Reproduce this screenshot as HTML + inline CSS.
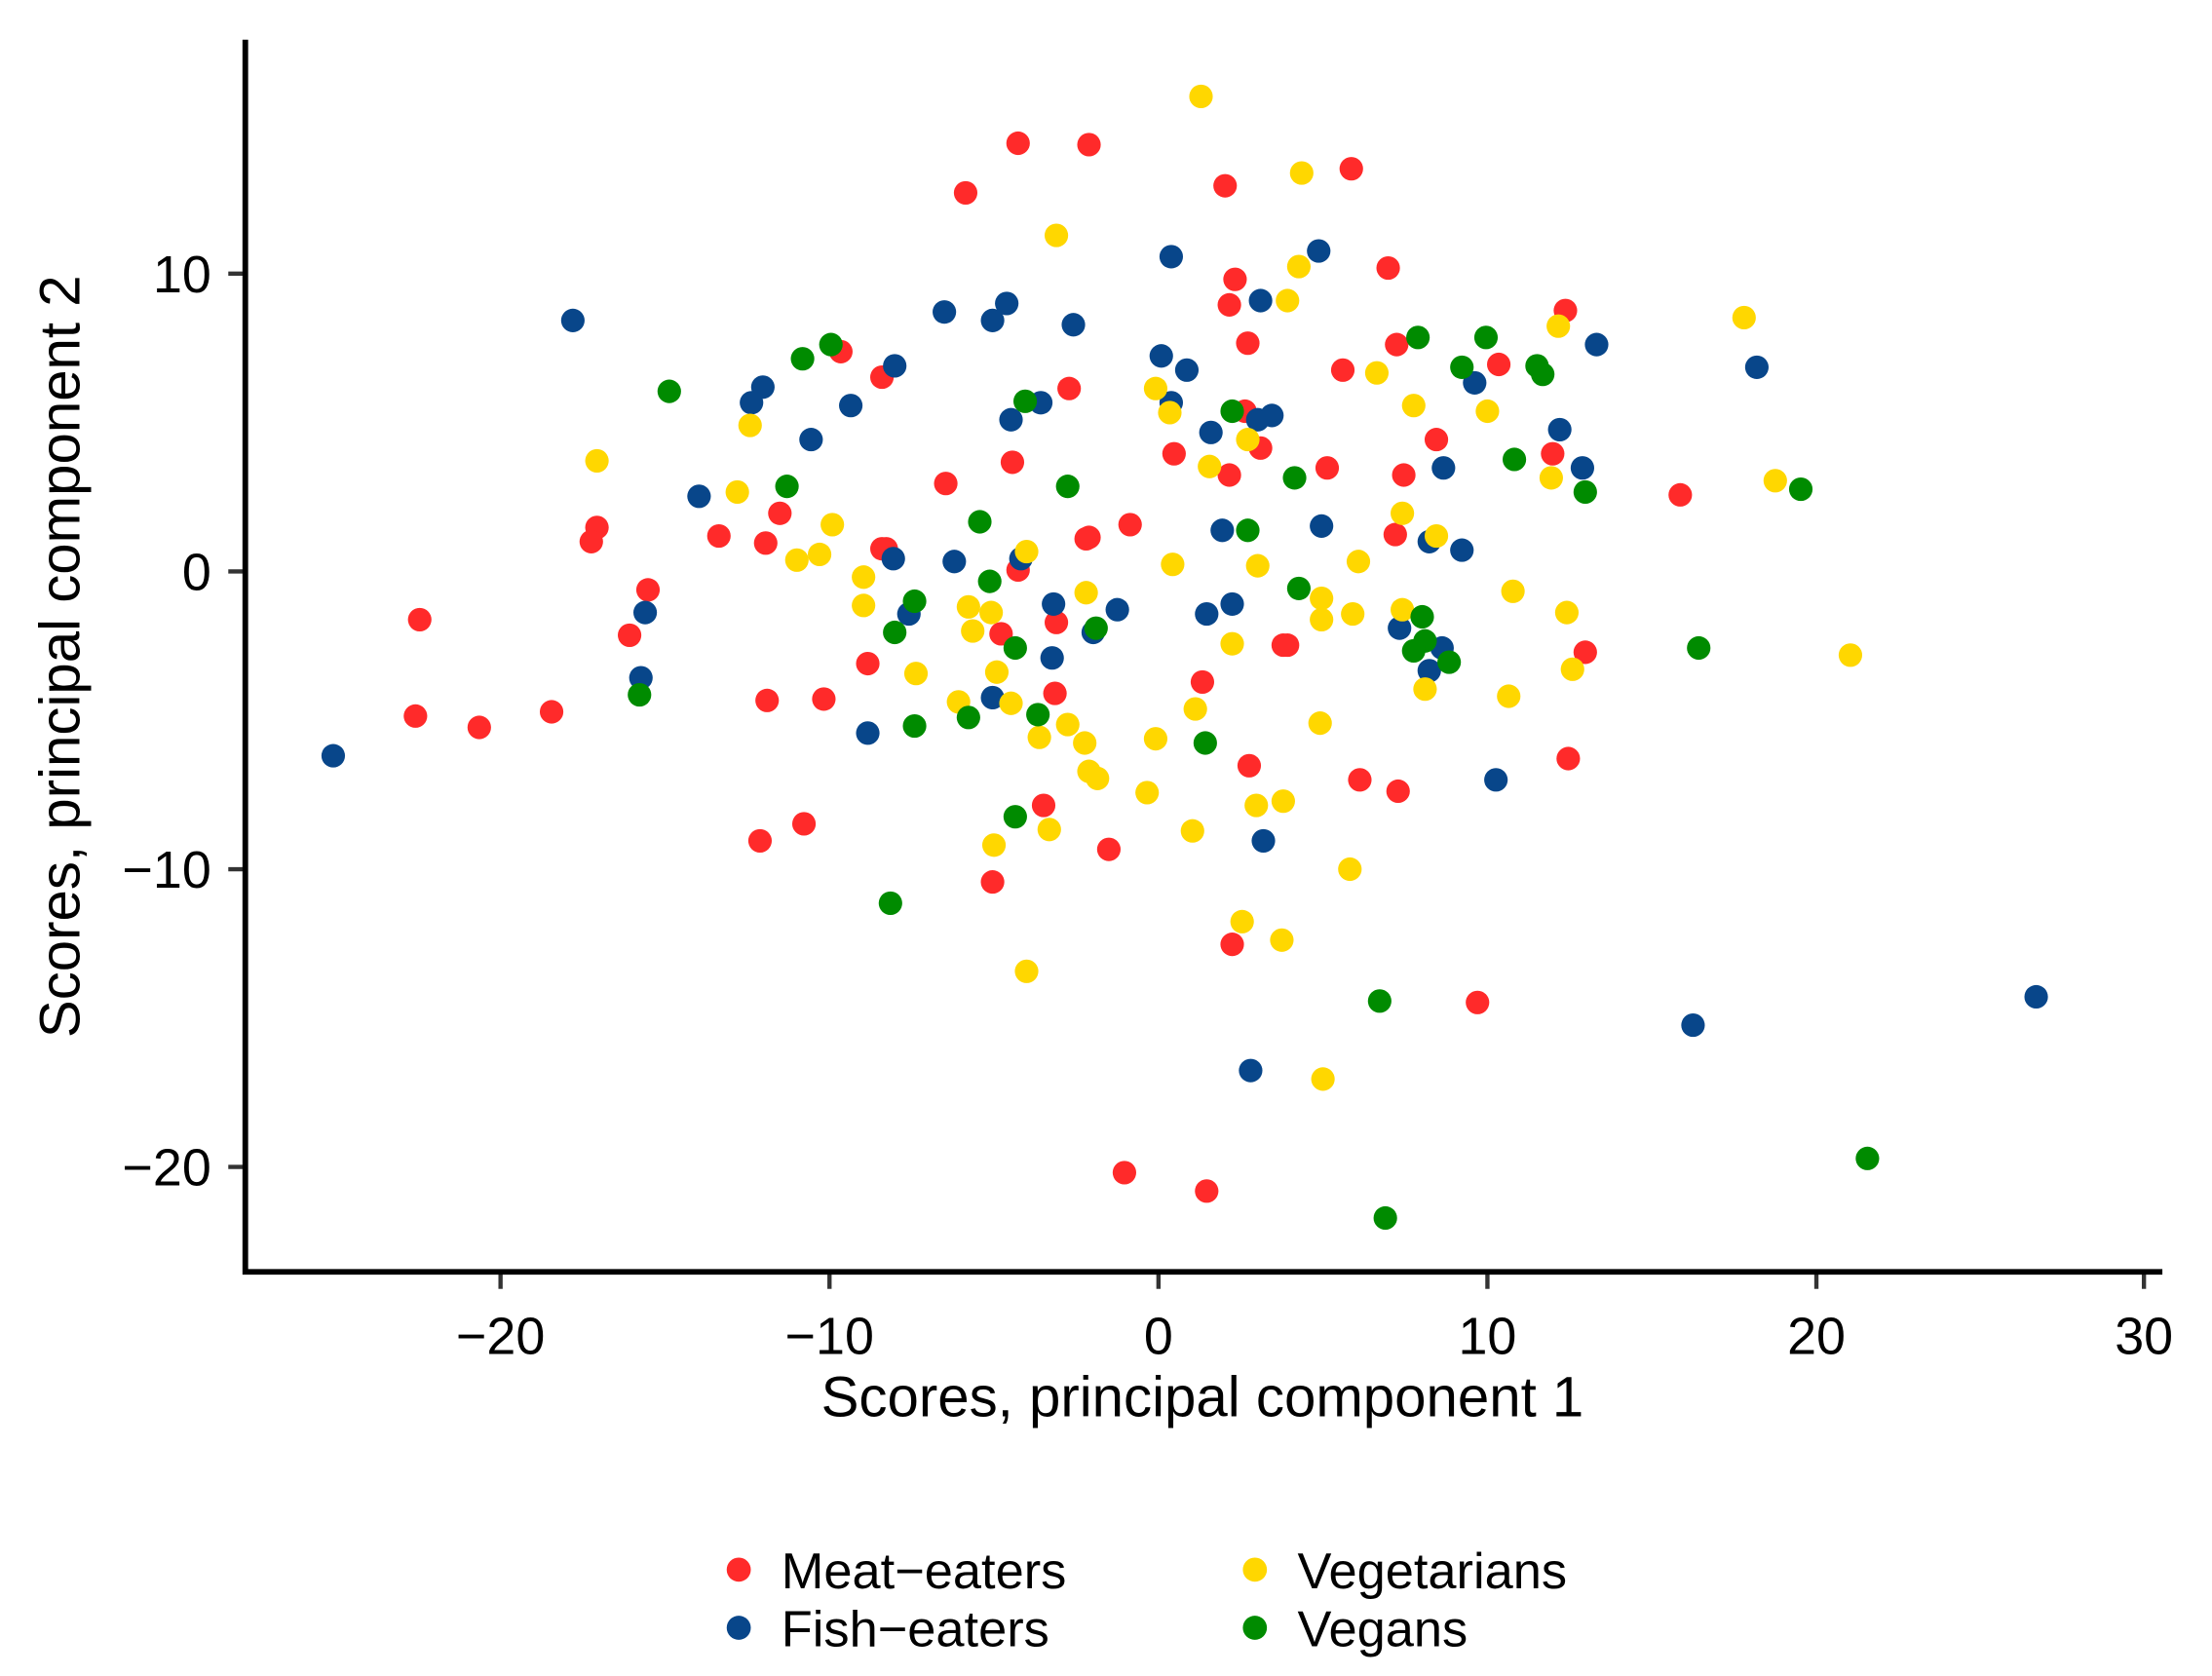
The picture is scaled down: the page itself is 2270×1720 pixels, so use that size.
<!DOCTYPE html>
<html><head><meta charset="utf-8"><style>html,body{margin:0;padding:0;background:#fff}svg{display:block}g.p circle{r:8.3px}</style></head>
<body>
<svg width="2270" height="1720" viewBox="0 0 1560 1182" xmlns="http://www.w3.org/2000/svg" font-family="Liberation Sans, sans-serif">
<rect width="1560" height="1182" fill="#fff"/>
<g stroke="#333" stroke-width="3">
<line x1="353" y1="897" x2="353" y2="909"/><line x1="585" y1="897" x2="585" y2="909"/><line x1="817" y1="897" x2="817" y2="909"/><line x1="1049" y1="897" x2="1049" y2="909"/><line x1="1281" y1="897" x2="1281" y2="909"/><line x1="1512" y1="897" x2="1512" y2="909"/>
<line x1="161" y1="193" x2="173" y2="193"/><line x1="161" y1="403" x2="173" y2="403"/><line x1="161" y1="613" x2="173" y2="613"/><line x1="161" y1="823" x2="173" y2="823"/>
</g>
<g stroke="#000" stroke-width="4" fill="none"><polyline points="173,28 173,897 1525,897"/></g>
<g font-size="37" fill="#000" text-anchor="middle">
<text x="353" y="955">−20</text><text x="585" y="955">−10</text><text x="817" y="955">0</text><text x="1049" y="955">10</text><text x="1281" y="955">20</text><text x="1512" y="955">30</text>
</g>
<g font-size="37" fill="#000" text-anchor="end">
<text x="149" y="206">10</text><text x="149" y="416">0</text><text x="149" y="626">−10</text><text x="149" y="836">−20</text>
</g>
<text x="848" y="999" font-size="40" text-anchor="middle">Scores, principal component 1</text>
<text transform="translate(56,463) rotate(-90)" font-size="40" text-anchor="middle">Scores, principal component 2</text>
<g class="p" fill="#FF2A2A">
<circle cx="718" cy="101" r="7.5"/><circle cx="768" cy="102" r="7.5"/><circle cx="681" cy="136" r="7.5"/><circle cx="953" cy="119" r="7.5"/><circle cx="864" cy="131" r="7.5"/><circle cx="979" cy="189" r="7.5"/><circle cx="871" cy="197" r="7.5"/><circle cx="867" cy="215" r="7.5"/><circle cx="880" cy="242" r="7.5"/><circle cx="985" cy="243" r="7.5"/><circle cx="1104" cy="219" r="7.5"/><circle cx="1057" cy="257" r="7.5"/><circle cx="947" cy="261" r="7.5"/><circle cx="878" cy="290" r="7.5"/><circle cx="889" cy="316" r="7.5"/><circle cx="936" cy="330" r="7.5"/><circle cx="990" cy="335" r="7.5"/><circle cx="828" cy="320" r="7.5"/><circle cx="867" cy="335" r="7.5"/><circle cx="1095" cy="320" r="7.5"/><circle cx="1185" cy="349" r="7.5"/><circle cx="984" cy="377" r="7.5"/><circle cx="593" cy="248" r="7.5"/><circle cx="622" cy="266" r="7.5"/><circle cx="754" cy="274" r="7.5"/><circle cx="714" cy="326" r="7.5"/><circle cx="667" cy="341" r="7.5"/><circle cx="550" cy="362" r="7.5"/><circle cx="507" cy="378" r="7.5"/><circle cx="540" cy="383" r="7.5"/><circle cx="421" cy="372" r="7.5"/><circle cx="417" cy="382" r="7.5"/><circle cx="622" cy="387" r="7.5"/><circle cx="625" cy="387" r="7.5"/><circle cx="766" cy="380" r="7.5"/><circle cx="768" cy="379" r="7.5"/><circle cx="797" cy="370" r="7.5"/><circle cx="457" cy="416" r="7.5"/><circle cx="296" cy="437" r="7.5"/><circle cx="444" cy="448" r="7.5"/><circle cx="718" cy="402" r="7.5"/><circle cx="706" cy="447" r="7.5"/><circle cx="745" cy="439" r="7.5"/><circle cx="612" cy="468" r="7.5"/><circle cx="905" cy="455" r="7.5"/><circle cx="908" cy="455" r="7.5"/><circle cx="848" cy="481" r="7.5"/><circle cx="1118" cy="460" r="7.5"/><circle cx="541" cy="494" r="7.5"/><circle cx="581" cy="493" r="7.5"/><circle cx="744" cy="489" r="7.5"/><circle cx="293" cy="505" r="7.5"/><circle cx="338" cy="513" r="7.5"/><circle cx="389" cy="502" r="7.5"/><circle cx="881" cy="540" r="7.5"/><circle cx="1106" cy="535" r="7.5"/><circle cx="959" cy="550" r="7.5"/><circle cx="986" cy="558" r="7.5"/><circle cx="567" cy="581" r="7.5"/><circle cx="536" cy="593" r="7.5"/><circle cx="736" cy="568" r="7.5"/><circle cx="782" cy="599" r="7.5"/><circle cx="700" cy="622" r="7.5"/><circle cx="869" cy="666" r="7.5"/><circle cx="1042" cy="707" r="7.5"/><circle cx="793" cy="827" r="7.5"/><circle cx="851" cy="840" r="7.5"/><circle cx="1013" cy="310" r="7.5"/>
</g>
<g class="p" fill="#08468A">
<circle cx="404" cy="226" r="7.5"/><circle cx="235" cy="533" r="7.5"/><circle cx="493" cy="350" r="7.5"/><circle cx="530" cy="284" r="7.5"/><circle cx="538" cy="273" r="7.5"/><circle cx="572" cy="310" r="7.5"/><circle cx="600" cy="286" r="7.5"/><circle cx="631" cy="258" r="7.5"/><circle cx="666" cy="220" r="7.5"/><circle cx="700" cy="226" r="7.5"/><circle cx="710" cy="214" r="7.5"/><circle cx="757" cy="229" r="7.5"/><circle cx="713" cy="296" r="7.5"/><circle cx="734" cy="284" r="7.5"/><circle cx="826" cy="181" r="7.5"/><circle cx="930" cy="177" r="7.5"/><circle cx="889" cy="212" r="7.5"/><circle cx="819" cy="251" r="7.5"/><circle cx="837" cy="261" r="7.5"/><circle cx="826" cy="284" r="7.5"/><circle cx="854" cy="305" r="7.5"/><circle cx="887" cy="296" r="7.5"/><circle cx="897" cy="293" r="7.5"/><circle cx="1126" cy="243" r="7.5"/><circle cx="1040" cy="270" r="7.5"/><circle cx="1100" cy="303" r="7.5"/><circle cx="1116" cy="330" r="7.5"/><circle cx="1018" cy="330" r="7.5"/><circle cx="932" cy="371" r="7.5"/><circle cx="1008" cy="382" r="7.5"/><circle cx="1031" cy="388" r="7.5"/><circle cx="862" cy="374" r="7.5"/><circle cx="630" cy="394" r="7.5"/><circle cx="720" cy="394" r="7.5"/><circle cx="673" cy="396" r="7.5"/><circle cx="455" cy="432" r="7.5"/><circle cx="641" cy="433" r="7.5"/><circle cx="743" cy="426" r="7.5"/><circle cx="771" cy="446" r="7.5"/><circle cx="788" cy="430" r="7.5"/><circle cx="851" cy="433" r="7.5"/><circle cx="869" cy="426" r="7.5"/><circle cx="452" cy="478" r="7.5"/><circle cx="742" cy="464" r="7.5"/><circle cx="700" cy="492" r="7.5"/><circle cx="612" cy="517" r="7.5"/><circle cx="987" cy="443" r="7.5"/><circle cx="1017" cy="457" r="7.5"/><circle cx="1008" cy="473" r="7.5"/><circle cx="1055" cy="550" r="7.5"/><circle cx="891" cy="593" r="7.5"/><circle cx="882" cy="755" r="7.5"/><circle cx="1194" cy="723" r="7.5"/><circle cx="1436" cy="703" r="7.5"/><circle cx="1239" cy="259" r="7.5"/>
</g>
<g class="p" fill="#FFD700">
<circle cx="847" cy="68" r="7.5"/><circle cx="918" cy="122" r="7.5"/><circle cx="745" cy="166" r="7.5"/><circle cx="916" cy="188" r="7.5"/><circle cx="908" cy="212" r="7.5"/><circle cx="1230" cy="224" r="7.5"/><circle cx="1099" cy="230" r="7.5"/><circle cx="971" cy="263" r="7.5"/><circle cx="997" cy="286" r="7.5"/><circle cx="1049" cy="290" r="7.5"/><circle cx="815" cy="274" r="7.5"/><circle cx="825" cy="291" r="7.5"/><circle cx="529" cy="300" r="7.5"/><circle cx="421" cy="325" r="7.5"/><circle cx="853" cy="329" r="7.5"/><circle cx="880" cy="310" r="7.5"/><circle cx="520" cy="347" r="7.5"/><circle cx="1094" cy="337" r="7.5"/><circle cx="1252" cy="339" r="7.5"/><circle cx="989" cy="362" r="7.5"/><circle cx="1013" cy="378" r="7.5"/><circle cx="587" cy="370" r="7.5"/><circle cx="562" cy="395" r="7.5"/><circle cx="578" cy="391" r="7.5"/><circle cx="724" cy="389" r="7.5"/><circle cx="827" cy="398" r="7.5"/><circle cx="887" cy="399" r="7.5"/><circle cx="958" cy="396" r="7.5"/><circle cx="609" cy="407" r="7.5"/><circle cx="609" cy="427" r="7.5"/><circle cx="683" cy="428" r="7.5"/><circle cx="699" cy="432" r="7.5"/><circle cx="766" cy="418" r="7.5"/><circle cx="932" cy="422" r="7.5"/><circle cx="1067" cy="417" r="7.5"/><circle cx="932" cy="437" r="7.5"/><circle cx="954" cy="433" r="7.5"/><circle cx="989" cy="430" r="7.5"/><circle cx="1105" cy="432" r="7.5"/><circle cx="686" cy="445" r="7.5"/><circle cx="646" cy="475" r="7.5"/><circle cx="703" cy="474" r="7.5"/><circle cx="869" cy="454" r="7.5"/><circle cx="1109" cy="472" r="7.5"/><circle cx="1005" cy="486" r="7.5"/><circle cx="1064" cy="491" r="7.5"/><circle cx="676" cy="495" r="7.5"/><circle cx="713" cy="496" r="7.5"/><circle cx="843" cy="500" r="7.5"/><circle cx="931" cy="510" r="7.5"/><circle cx="753" cy="511" r="7.5"/><circle cx="733" cy="520" r="7.5"/><circle cx="815" cy="521" r="7.5"/><circle cx="765" cy="524" r="7.5"/><circle cx="768" cy="544" r="7.5"/><circle cx="774" cy="549" r="7.5"/><circle cx="809" cy="559" r="7.5"/><circle cx="886" cy="568" r="7.5"/><circle cx="905" cy="565" r="7.5"/><circle cx="740" cy="585" r="7.5"/><circle cx="841" cy="586" r="7.5"/><circle cx="701" cy="596" r="7.5"/><circle cx="952" cy="613" r="7.5"/><circle cx="876" cy="650" r="7.5"/><circle cx="904" cy="663" r="7.5"/><circle cx="724" cy="685" r="7.5"/><circle cx="933" cy="761" r="7.5"/><circle cx="1305" cy="462" r="7.5"/>
</g>
<g class="p" fill="#008B00">
<circle cx="472" cy="276" r="7.5"/><circle cx="586" cy="243" r="7.5"/><circle cx="566" cy="253" r="7.5"/><circle cx="555" cy="343" r="7.5"/><circle cx="723" cy="283" r="7.5"/><circle cx="753" cy="343" r="7.5"/><circle cx="869" cy="290" r="7.5"/><circle cx="1000" cy="238" r="7.5"/><circle cx="1048" cy="238" r="7.5"/><circle cx="1031" cy="259" r="7.5"/><circle cx="1084" cy="258" r="7.5"/><circle cx="1088" cy="264" r="7.5"/><circle cx="1068" cy="324" r="7.5"/><circle cx="1118" cy="347" r="7.5"/><circle cx="1270" cy="345" r="7.5"/><circle cx="913" cy="337" r="7.5"/><circle cx="691" cy="368" r="7.5"/><circle cx="880" cy="374" r="7.5"/><circle cx="698" cy="410" r="7.5"/><circle cx="645" cy="424" r="7.5"/><circle cx="631" cy="446" r="7.5"/><circle cx="716" cy="457" r="7.5"/><circle cx="773" cy="443" r="7.5"/><circle cx="916" cy="415" r="7.5"/><circle cx="1003" cy="435" r="7.5"/><circle cx="1005" cy="452" r="7.5"/><circle cx="997" cy="459" r="7.5"/><circle cx="1022" cy="467" r="7.5"/><circle cx="451" cy="490" r="7.5"/><circle cx="645" cy="512" r="7.5"/><circle cx="683" cy="506" r="7.5"/><circle cx="732" cy="504" r="7.5"/><circle cx="850" cy="524" r="7.5"/><circle cx="1198" cy="457" r="7.5"/><circle cx="716" cy="576" r="7.5"/><circle cx="628" cy="637" r="7.5"/><circle cx="973" cy="706" r="7.5"/><circle cx="1317" cy="817" r="7.5"/><circle cx="977" cy="859" r="7.5"/>
</g>
<circle cx="521" cy="1107" r="8.5" fill="#FF2A2A"/><circle cx="521" cy="1148" r="8.5" fill="#08468A"/>
<circle cx="885" cy="1107" r="8.5" fill="#FFD700"/><circle cx="885" cy="1148" r="8.5" fill="#008B00"/>
<g font-size="36" fill="#000">
<text x="551" y="1120">Meat−eaters</text><text x="551" y="1161">Fish−eaters</text>
<text x="915" y="1120">Vegetarians</text><text x="915" y="1161">Vegans</text>
</g>
</svg>
</body></html>
